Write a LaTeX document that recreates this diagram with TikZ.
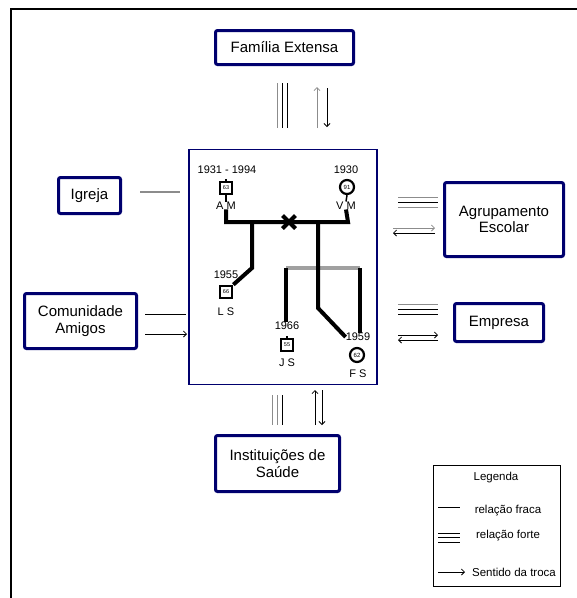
\documentclass[tikz,border=0pt]{standalone}
\usepackage{fontspec}
\setmainfont{Liberation Sans}
\usetikzlibrary{arrows.meta,calc}
\definecolor{navy}{RGB}{0,0,110}
\definecolor{lgrey}{RGB}{140,140,140}
\definecolor{sgrey}{RGB}{160,160,160}
\begin{document}
\begin{tikzpicture}[x=1pt,y=-1pt,
  ebox/.style={draw=navy, line width=3pt, rounded corners=2pt, fill=white, inner sep=0pt, align=center, font=\fontsize{15}{16.5}\selectfont},
  gtxt/.style={inner sep=0pt, font=\fontsize{11}{12}\selectfont},
  ltxt/.style={inner sep=0pt, font=\fontsize{11.5}{13}\selectfont},
  msq/.style={draw, line width=2.2pt, minimum size=12.5pt, inner sep=0pt, font=\fontsize{5.5}{5.5}\selectfont},
  fci/.style={draw, circle, line width=2.2pt, minimum size=14pt, inner sep=0pt, font=\fontsize{6}{6}\selectfont},
  gline/.style={line width=4pt},
  sib/.style={line width=4pt, sgrey},
  weak/.style={line width=1.1pt, lgrey},
  arr/.style={line width=0.8pt, -{Straight Barb[length=3pt,width=6pt]}},
]
\useasboundingbox (0,0) rectangle (577,598);
\draw[line width=2pt] (11,600) -- (11,9) -- (580,9);

% outer systems
\node[ebox, minimum width=138pt, minimum height=34pt] (fam) at (284.5,47.5) {Família Extensa};
\node[ebox, minimum width=62pt, minimum height=36pt] (igr) at (89.5,195.5) {Igreja};
\node[ebox, minimum width=112pt, minimum height=55pt] (com) at (80.5,321) {Comunidade\\Amigos};
\node[ebox, minimum width=119pt, minimum height=74pt] (agr) at (504,219.5) {Agrupamento\\Escolar};
\node[ebox, minimum width=89pt, minimum height=38pt] (emp) at (499,322.5) {Empresa};
\node[ebox, minimum width=124pt, minimum height=56pt] (ins) at (277.5,463.5) {Instituições de\\Saúde};

% central genogram box
\node[draw=navy, line width=1.5pt, minimum width=188pt, minimum height=235pt, inner sep=0pt] (gen) at (283,267) {};

% genogram persons
\node[gtxt] (amy) at (227,170) {1931 - 1994};
\node[msq] (am) at (226,188) {63};
\node[gtxt] (amt) at (226,205.5) {A M};
\node[gtxt] (vmy) at (346,170) {1930};
\node[fci] (vm) at (347,187) {91};
\node[gtxt] (vmt) at (346,205.5) {V M};
\node[gtxt] (lsy) at (226,275) {1955};
\node[msq] (ls) at (226,292) {66};
\node[gtxt] (lst) at (226,312) {L S};
\node[gtxt] (jsy) at (287,326) {1966};
\node[msq] (js) at (287,345) {55};
\node[gtxt] (jst) at (287,363) {J S};
\node[gtxt] (fsy) at (358,337) {1959};
\node[fci] (fs) at (357,355) {62};
\node[gtxt] (fst) at (358,374) {F S};

\draw[line width=1.5pt] (am.north) -- ++(0,-2);
\draw[line width=1.5pt] (am.south) -- (amt.north);
\draw[line width=1.5pt] (vm.south) -- (vmt.north);
\draw[line width=1.5pt] (js.north) -- ++(0,-2);

\coordinate (mL) at (226,222);
\coordinate (mR) at (348,222);
\coordinate (cL) at (252,222);
\coordinate (cLb) at (252,268);
\coordinate (cR) at (318,222);
\coordinate (cRb) at (318,308);
\coordinate (sL) at (286,268);
\coordinate (sR) at (360,268);
\coordinate (xm) at (289,222);

\draw[gline] (amt.south) -- (mL) -- (mR) -- (vmt.south);
\draw[line width=4pt] ($(xm)+(-6.5,-6.5)$) -- ($(xm)+(6.5,6.5)$);
\draw[line width=4pt] ($(xm)+(-6.5,6.5)$) -- ($(xm)+(6.5,-6.5)$);
\draw[gline] (cL) -- (cLb) -- (ls.north east);
\draw[sib] (sL) -- (sR);
\draw[gline] (cR) -- (cRb) -- (fsy.west);
\draw[gline] (sL) -- (sL |- jsy.north);
\draw[gline] (sR) -- (sR |- fsy.north);

% connectors: Família Extensa
\coordinate (f1) at (277,83); \coordinate (f1b) at (277,128);
\coordinate (f2) at (282,83); \coordinate (f2b) at (282,128);
\coordinate (f3) at (287,83); \coordinate (f3b) at (287,128);
\draw[line width=1pt, lgrey] (f1) -- (f1b);
\draw[line width=1pt] (f2) -- (f2b);
\draw[line width=1pt] (f3) -- (f3b);
\coordinate (fu1) at (317,128); \coordinate (fu2) at (317,87);
\coordinate (fd1) at (327,88); \coordinate (fd2) at (327,127);
\draw[arr, lgrey] (fu1) -- (fu2);
\draw[arr] (fd1) -- (fd2);

% connectors: Instituições de Saúde
\coordinate (i1) at (272,395); \coordinate (i1b) at (272,425);
\coordinate (i2) at (277,395); \coordinate (i2b) at (277,425);
\coordinate (i3) at (282,395); \coordinate (i3b) at (282,425);
\draw[line width=1pt, lgrey] (i1) -- (i1b);
\draw[line width=1pt, lgrey] (i2) -- (i2b);
\draw[line width=1pt] (i3) -- (i3b);
\coordinate (iu1) at (315,425); \coordinate (iu2) at (315,390);
\coordinate (id1) at (322,390); \coordinate (id2) at (322,425);
\draw[arr] (iu1) -- (iu2);
\draw[arr] (id1) -- (id2);

% Igreja
\coordinate (g1) at (140,192); \coordinate (g2) at (180,192);
\draw[weak] (g1) -- (g2);

% Comunidade
\coordinate (c1) at (145,314); \coordinate (c2) at (186,314);
\coordinate (c3) at (145,334); \coordinate (c4) at (187,334);
\draw[line width=1pt] (c1) -- (c2);
\draw[arr] (c3) -- (c4);

% Agrupamento
\coordinate (a1) at (398,197); \coordinate (a1b) at (438,197);
\coordinate (a2) at (398,202); \coordinate (a2b) at (438,202);
\coordinate (a3) at (398,207); \coordinate (a3b) at (438,207);
\draw[line width=1pt, lgrey] (a1) -- (a1b);
\draw[line width=1pt] (a2) -- (a2b);
\draw[line width=1pt, lgrey] (a3) -- (a3b);
\coordinate (ar1) at (393,228); \coordinate (ar2) at (435,228);
\coordinate (al1) at (435,233); \coordinate (al2) at (393,233);
\draw[arr, lgrey] (ar1) -- (ar2);
\draw[arr] (al1) -- (al2);

% Empresa
\coordinate (e1) at (398,304); \coordinate (e1b) at (438,304);
\coordinate (e2) at (398,309); \coordinate (e2b) at (438,309);
\coordinate (e3) at (398,314); \coordinate (e3b) at (438,314);
\draw[line width=1pt, lgrey] (e1) -- (e1b);
\draw[line width=1pt] (e2) -- (e2b);
\draw[line width=1pt] (e3) -- (e3b);
\coordinate (er1) at (398,335); \coordinate (er2) at (438,335);
\coordinate (el1) at (438,340); \coordinate (el2) at (398,340);
\draw[arr] (er1) -- (er2);
\draw[arr] (el1) -- (el2);

% legend
\node[draw, line width=0.8pt, minimum width=127pt, minimum height=121pt, inner sep=0pt] (leg) at (497,526) {};
\node[ltxt] (lg) at (496,478) {Legenda};
\node[ltxt] (lf) at (508,511) {relação fraca};
\node[ltxt] (ls2) at (508,536) {relação forte};
\node[ltxt] (lt) at (514,572) {Sentido da troca};
\coordinate (lw1) at (438,507); \coordinate (lw2) at (460,507);
\draw[line width=0.8pt] (lw1) -- (lw2);
\coordinate (ls1a) at (438,533); \coordinate (ls1b) at (460,533);
\coordinate (ls2a) at (438,537); \coordinate (ls2b) at (460,537);
\coordinate (ls3a) at (438,542); \coordinate (ls3b) at (460,542);
\draw[line width=0.8pt] (ls1a) -- (ls1b);
\draw[line width=0.8pt] (ls2a) -- (ls2b);
\draw[line width=0.8pt] (ls3a) -- (ls3b);
\coordinate (la1) at (438,572); \coordinate (la2) at (465,572);
\draw[arr] (la1) -- (la2);
\end{tikzpicture}
\end{document}
